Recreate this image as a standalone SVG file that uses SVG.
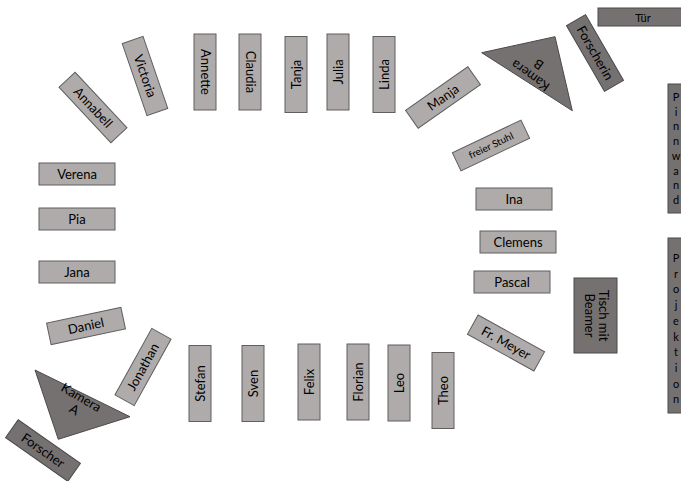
<svg xmlns="http://www.w3.org/2000/svg" width="681" height="481" viewBox="0 0 681 481">
<style>
.l{fill:#AFABAB;stroke:#5f5f5f;stroke-width:1}
.d{fill:#767171;stroke:#4a4a4a;stroke-width:1}
text{font-family:Lato,"Open Sans","Liberation Sans",sans-serif;font-size:13px;fill:#000;text-anchor:middle}
.s{font-size:10px}
.p{font-size:11px}
</style>
<rect width="681" height="481" fill="#fff"/>
<g id="Annette" transform="translate(205,72) rotate(90)"><rect class="l" x="-38" y="-11" width="76" height="22"/><text y="4.5">Annette</text></g>
<g id="Claudia" transform="translate(250,72) rotate(90)"><rect class="l" x="-38" y="-11" width="76" height="22"/><text y="4.5">Claudia</text></g>
<g id="Tanja" transform="translate(296,74.5) rotate(-90)"><rect class="l" x="-38" y="-11" width="76" height="22"/><text y="4.5">Tanja</text></g>
<g id="Julia" transform="translate(338,72) rotate(-90)"><rect class="l" x="-38" y="-11" width="76" height="22"/><text y="4.5">Julia</text></g>
<g id="Linda" transform="translate(384,74.5) rotate(-90)"><rect class="l" x="-38" y="-11" width="76" height="22"/><text y="4.5">Linda</text></g>
<g id="Stefan" transform="translate(200,383.5) rotate(-90)"><rect class="l" x="-38" y="-11" width="76" height="22"/><text y="4.5">Stefan</text></g>
<g id="Sven" transform="translate(253,383.5) rotate(-90)"><rect class="l" x="-38" y="-11" width="76" height="22"/><text y="4.5">Sven</text></g>
<g id="Felix" transform="translate(309,382) rotate(-90)"><rect class="l" x="-38" y="-11" width="76" height="22"/><text y="4.5">Felix</text></g>
<g id="Florian" transform="translate(358,382) rotate(-90)"><rect class="l" x="-38" y="-11" width="76" height="22"/><text y="4.5">Florian</text></g>
<g id="Leo" transform="translate(399,383) rotate(-90)"><rect class="l" x="-38" y="-11" width="76" height="22"/><text y="4.5">Leo</text></g>
<g id="Theo" transform="translate(443,390.5) rotate(-90)"><rect class="l" x="-38" y="-11" width="76" height="22"/><text y="4.5">Theo</text></g>
<g id="Verena" transform="translate(77,174)"><rect class="l" x="-38" y="-11" width="76" height="22"/><text y="4.5">Verena</text></g>
<g id="Pia" transform="translate(77,219)"><rect class="l" x="-38" y="-11" width="76" height="22"/><text y="4.5">Pia</text></g>
<g id="Jana" transform="translate(77,272)"><rect class="l" x="-38" y="-11" width="76" height="22"/><text y="4.5">Jana</text></g>
<g id="Daniel" transform="translate(86,326) rotate(-12)"><rect class="l" x="-38" y="-11" width="76" height="22"/><text y="4.5">Daniel</text></g>
<g id="Jonathan" transform="translate(143,367) rotate(-61)"><rect class="l" x="-38" y="-11" width="76" height="22"/><text y="4.5">Jonathan</text></g>
<g id="Annabell" transform="translate(93,107.5) rotate(47)"><rect class="l" x="-38" y="-11" width="76" height="22"/><text y="4.5">Annabell</text></g>
<g id="Victoria" transform="translate(145,76) rotate(71)"><rect class="l" x="-38" y="-11" width="76" height="22"/><text y="4.5">Victoria</text></g>
<g id="Manja" transform="translate(443,97.5) rotate(-35)"><rect class="l" x="-38" y="-11" width="76" height="22"/><text y="4.5">Manja</text></g>
<g id="freierStuhl" transform="translate(491,145.5) rotate(-25.5)"><rect class="l" x="-38" y="-10" width="76" height="20"/><text class="s" y="3.5">freier Stuhl</text></g>
<g id="Ina" transform="translate(514,199)"><rect class="l" x="-38" y="-11" width="76" height="22"/><text y="4.5">Ina</text></g>
<g id="Clemens" transform="translate(518,242)"><rect class="l" x="-38" y="-11" width="76" height="22"/><text y="4.5">Clemens</text></g>
<g id="Pascal" transform="translate(512,282)"><rect class="l" x="-38" y="-11" width="76" height="22"/><text y="4.5">Pascal</text></g>
<g id="FrMeyer" transform="translate(506,343) rotate(29)"><rect class="l" x="-38" y="-11" width="76" height="22"/><text y="4.5">Fr. Meyer</text></g>
<g id="Forscherin" transform="translate(595,53) rotate(60)"><rect class="d" x="-38" y="-11" width="76" height="22"/><text y="4.5">Forscherin</text></g>
<g id="Forscher" transform="translate(43,450.5) rotate(35)"><rect class="d" x="-38" y="-11" width="76" height="22"/><text y="4.5">Forscher</text></g>
<g id="Tuer"><rect class="d" x="598" y="8" width="90" height="18"/><text x="643" y="21.5" class="p">Tür</text></g>
<g id="Tisch"><rect class="d" x="574" y="278" width="43" height="75"/><g transform="translate(595.5,315.5) rotate(90)"><text y="-3">Tisch mit</text><text y="11">Beamer</text></g></g>
<g id="Pinnwand"><rect class="d" x="668" y="84" width="30" height="129"/><text class="p"><tspan x="676" y="101">P</tspan><tspan x="676" y="115.7">i</tspan><tspan x="676" y="130.4">n</tspan><tspan x="676" y="145.1">n</tspan><tspan x="676" y="159.8">w</tspan><tspan x="676" y="174.5">a</tspan><tspan x="676" y="189.2">n</tspan><tspan x="676" y="203.9">d</tspan></text></g>
<g id="Projektion"><rect class="d" x="668" y="238" width="30" height="175"/><text class="p"><tspan x="676" y="262">P</tspan><tspan x="676" y="277.7">r</tspan><tspan x="676" y="293.4">o</tspan><tspan x="676" y="309.1">j</tspan><tspan x="676" y="324.8">e</tspan><tspan x="676" y="340.5">k</tspan><tspan x="676" y="356.2">t</tspan><tspan x="676" y="371.9">i</tspan><tspan x="676" y="387.6">o</tspan><tspan x="676" y="403.3">n</tspan></text></g>
<g id="KameraB"><polygon class="d" points="481.7,52.7 555,36.7 572.3,110.7"/><g transform="translate(534.5,70) rotate(216)"><text y="-2.5">Kamera</text><text y="11.5">B</text></g></g>
<g id="KameraA"><polygon class="d" points="35,370 130,416.7 58.3,439.3"/><g transform="translate(78,403) rotate(30)"><text y="-2">Kamera</text><text y="12">A</text></g></g>
<g id="connectors"/>
</svg>
